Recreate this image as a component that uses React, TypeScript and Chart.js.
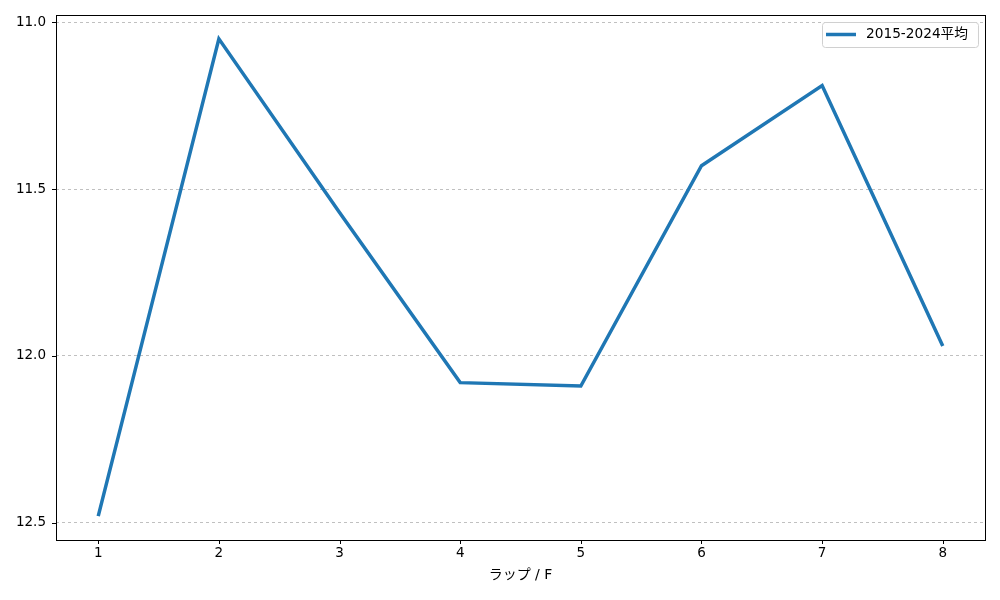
import React, { useEffect, useRef } from "react";
import { Chart, registerables } from "chart.js";

Chart.register(...registerables);

const laps = [1, 2, 3, 4, 5, 6, 7, 8];
const avgTimes = [12.48, 11.05, 11.57, 12.08, 12.09, 11.43, 11.19, 11.97];
const yTicks = [11.0, 11.5, 12.0, 12.5];
const seriesLabel = "2015-2024平均";
const xTitle = "ラップ / F";

const FONT = "'DejaVu Sans', 'Noto Sans CJK JP', sans-serif";
const LINE_COLOR = "#1f77b4";

const framePlugin = {
  id: "frame",
  afterDraw(chart: any) {
    const { ctx, chartArea: a, scales } = chart;
    ctx.save();
    ctx.strokeStyle = "#000";
    ctx.lineWidth = 1;
    ctx.setLineDash([]);
    ctx.strokeRect(Math.round(a.left) + 0.5, Math.round(a.top) + 0.5, Math.round(a.right - a.left), Math.round(a.bottom - a.top));
    ctx.beginPath();
    laps.forEach((v) => {
      const x = Math.round(scales.x.getPixelForValue(v)) + 0.5;
      ctx.moveTo(x, a.bottom);
      ctx.lineTo(x, a.bottom + 4);
    });
    yTicks.forEach((v) => {
      const y = Math.round(scales.y.getPixelForValue(v)) + 0.5;
      ctx.moveTo(a.left, y);
      ctx.lineTo(a.left - 4, y);
    });
    ctx.stroke();
    // x title
    ctx.fillStyle = "#000";
    ctx.font = `14px ${FONT}`;
    ctx.textAlign = "center";
    ctx.textBaseline = "middle";
    ctx.fillText(xTitle, (a.left + a.right) / 2, a.bottom + 35);
    // legend
    ctx.font = `13.7px ${FONT}`;
    const tw = ctx.measureText(seriesLabel).width;
    const bw = 30 + 10 + tw + 8 + 6;
    const bx = Math.round(a.right - 7 - bw);
    const by = Math.round(a.top + 7);
    const bh = 25;
    ctx.fillStyle = "rgba(255,255,255,0.8)";
    ctx.strokeStyle = "#d0d0d0";
    ctx.beginPath();
    (ctx as any).roundRect(bx + 0.5, by + 0.5, bw, bh, 3);
    ctx.fill();
    ctx.stroke();
    ctx.strokeStyle = LINE_COLOR;
    ctx.lineWidth = 3.5;
    ctx.beginPath();
    ctx.moveTo(bx + 4, by + bh / 2);
    ctx.lineTo(bx + 34, by + bh / 2);
    ctx.stroke();
    ctx.fillStyle = "#000";
    ctx.textBaseline = "middle";
    ctx.textAlign = "left";
    ctx.fillText(seriesLabel, bx + 44, by + bh / 2);
    ctx.restore();
  },
};

export default function App() {
  const ref = useRef<HTMLCanvasElement>(null);
  useEffect(() => {
    if (!ref.current) return;
    const chart = new Chart(ref.current, {
      type: "line",
      data: {
        datasets: [
          {
            label: seriesLabel,
            data: laps.map((l, i) => ({ x: l, y: avgTimes[i] })),
            borderColor: LINE_COLOR,
            borderWidth: 3.5,
            pointRadius: 0,
            tension: 0,
            fill: false,
          },
        ],
      },
      options: {
        animation: false,
        responsive: false,
        layout: { padding: { top: 15, right: 15, left: 0, bottom: 0 } },
        plugins: { legend: { display: false }, tooltip: { enabled: false } },
        scales: {
          x: {
            type: "linear",
            min: 0.65,
            max: 8.35,
            afterBuildTicks: (s: any) => {
              s.ticks = laps.map((v) => ({ value: v }));
            },
            afterFit: (s: any) => {
              s.height = 60;
              s.paddingLeft = 0;
              s.paddingRight = 0;
            },
            grid: { display: false, drawTicks: false },
            border: { display: false },
            ticks: {
              padding: 5,
              color: "#000",
              maxRotation: 0,
              font: { family: FONT, size: 13.5 },
              callback: (v: any) => String(v),
            },
          },
          y: {
            type: "linear",
            reverse: true,
            min: 10.9785,
            max: 12.5515,
            afterBuildTicks: (s: any) => {
              s.ticks = yTicks.map((v) => ({ value: v }));
            },
            afterFit: (s: any) => {
              s.width = 56;
              s.paddingTop = 0;
              s.paddingBottom = 0;
            },
            grid: {
              drawTicks: false,
              color: "#b0b0b0",
              lineWidth: 0.8,
            },
            border: { display: false, dash: [3, 3] },
            ticks: {
              padding: 10,
              color: "#000",
              font: { family: FONT, size: 13.5 },
              callback: (v: any) => Number(v).toFixed(1),
            },
          },
        },
      },
      plugins: [framePlugin],
    } as any);
    return () => chart.destroy();
  }, []);
  return (
    <div style={{ position: "absolute", left: 0, top: 0, width: 1000, height: 600, background: "#fff" }}>
      <canvas ref={ref} width={1000} height={600} style={{ width: 1000, height: 600 }} />
    </div>
  );
}
